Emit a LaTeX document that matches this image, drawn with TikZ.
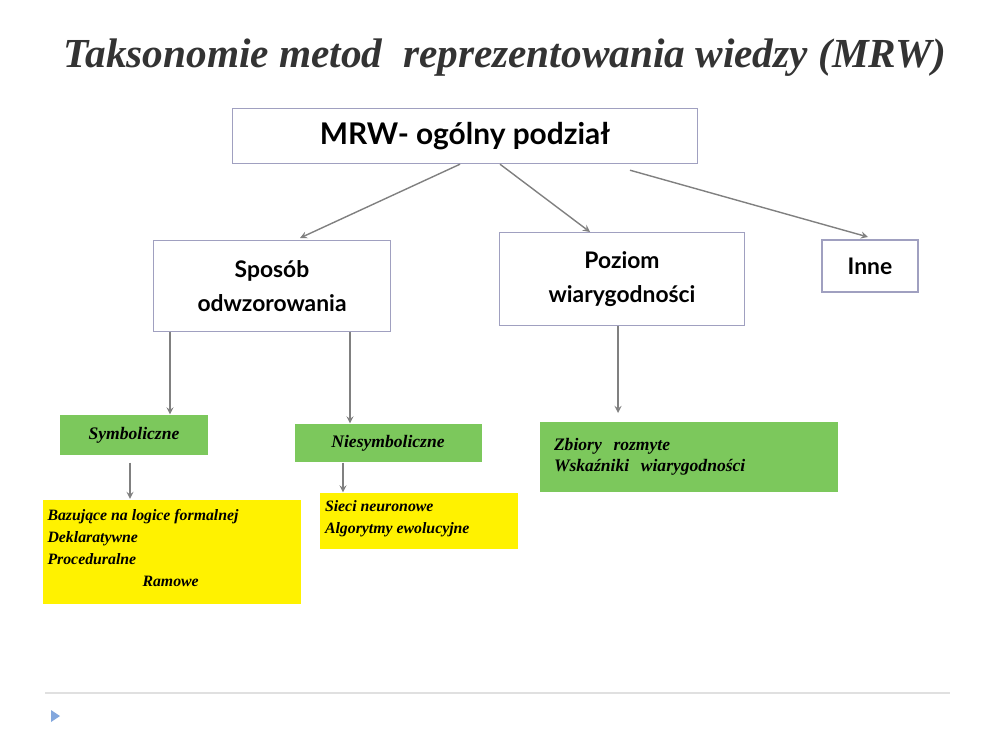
\documentclass[tikz,border=0pt]{standalone}
\usepackage{fontspec}
\setmainfont{Liberation Serif}
\setsansfont{Lato}
\usetikzlibrary{arrows}
\definecolor{boxline}{HTML}{A0A0C0}
\definecolor{leafgreen}{HTML}{7CC85C}
\definecolor{arrowgray}{HTML}{808080}
\begin{document}
\begin{tikzpicture}[
        x = 0.02cm, y = -0.02cm,
        > = stealth, % arrow head style
        semithick
    ]

    \tikzstyle{main}=[draw = boxline, thick, fill = white, align = center,
        font = \sffamily\bfseries, inner sep = 0pt]
    \tikzstyle{leaf}=[fill = leafgreen, align = left, inner sep = 0pt,
        font = \rmfamily\bfseries\itshape]
    \tikzstyle{note}=[fill = yellow, inner sep = 0pt,
        font = \rmfamily\bfseries\itshape\fontsize{9}{12.5}\selectfont]
    \tikzstyle{link}=[->, draw = arrowgray, thick]

    \useasboundingbox (0,0) rectangle (1000,750);

    \node[text = black!80, font = \rmfamily\bfseries\itshape\fontsize{23.5}{26}\selectfont] (title) at (505,58)
        {Taksonomie metod\ \ reprezentowania wiedzy (MRW)};

    \node[main, minimum width = 465*0.02cm, minimum height = 55*0.02cm,
        font = \sffamily\bfseries\fontsize{17}{20}\selectfont] (mrw) at (465,136) {MRW- ogólny podział};
    \node[main, minimum width = 237*0.02cm, minimum height = 91*0.02cm,
        font = \sffamily\bfseries\fontsize{13}{19}\selectfont] (sposob) at (272,286) {Sposób\\odwzorowania};
    \node[main, minimum width = 245*0.02cm, minimum height = 93*0.02cm,
        font = \sffamily\bfseries\fontsize{13}{19}\selectfont] (poziom) at (622,279) {Poziom\\wiarygodności};
    \node[main, minimum width = 96*0.02cm, minimum height = 52*0.02cm,
        font = \sffamily\bfseries\fontsize{13}{19}\selectfont] (inne) at (870,266) {Inne};

    \node[leaf, minimum width = 148*0.02cm, minimum height = 40*0.02cm] (symb) at (134,435) {Symboliczne};
    \node[leaf, minimum width = 187*0.02cm, minimum height = 38*0.02cm] (niesymb) at (388,443) {Niesymboliczne};
    \node[leaf, minimum width = 298*0.02cm, minimum height = 70*0.02cm, text width = 270*0.02cm]
        (rozmyte) at (689,457) {Zbiory\ \ rozmyte\\Wskaźniki\ \ wiarygodności};

    \node[note] (symbnote) at (172,552)
        {\begin{minipage}[c][2.1cm][t]{5.18cm}\vspace{0.2cm}\hspace*{0.1cm}Bazujące na logice formalnej\\
        \hspace*{0.1cm}Deklaratywne\\\hspace*{0.1cm}Proceduralne\\\hspace*{2.0cm}Ramowe\end{minipage}};
    \node[note] (niesymbnote) at (419,521)
        {\begin{minipage}[c][1.12cm][t]{3.96cm}\vspace{0.15cm}\hspace*{0.1cm}Sieci neuronowe\\
        \hspace*{0.1cm}Algorytmy ewolucyjne\end{minipage}};

    \draw[link] (mrw.south -| 460,0) -- (300,238);
    \draw[link] (mrw.south -| 500,0) -- (590,232);
    \draw[link] (mrw.south -| 630,0) ++(0,6) -- (868,237);

    \draw[link] (sposob.south -| 170,0) -- (symb.north -| 170,0);
    \draw[link] (sposob.south -| 350,0) -- (niesymb.north -| 350,0);
    \draw[link] (poziom.south -| 618,0) -- (618,413);
    \draw[link] (symb.south -| 130,0) ++(0,7) -- (symbnote.north -| 130,0);
    \draw[link] (niesymb.south -| 343,0) -- (niesymbnote.north -| 343,0);

    \draw[black!12] (45,693) -- (950,693);
    \fill[cyan!50!blue!50] (51,710) -- (60,716) -- (51,722) -- cycle;
\end{tikzpicture}
\end{document}
